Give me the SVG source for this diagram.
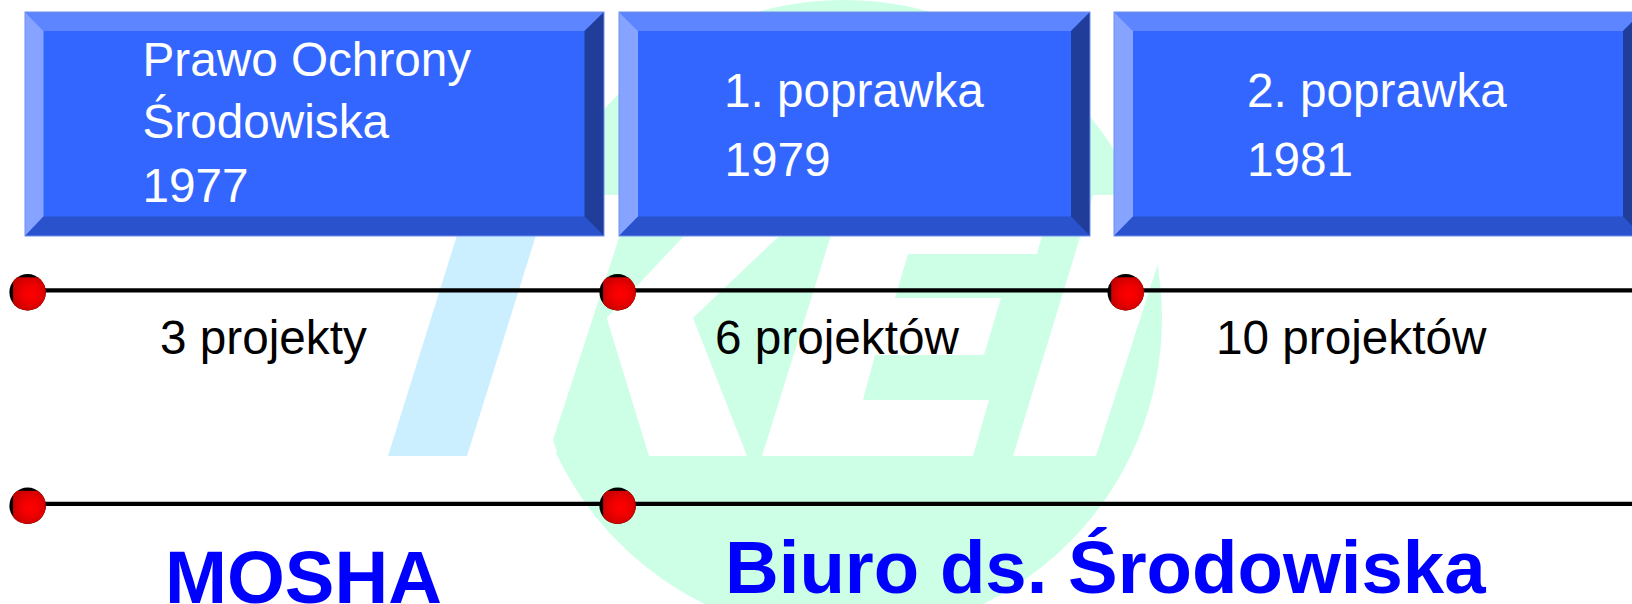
<svg xmlns="http://www.w3.org/2000/svg" width="1632" height="604" viewBox="0 0 1632 604">
<style>
text{font-family:"Liberation Sans",Arial,sans-serif}
.w{font-size:47.7px;fill:#fff}
.k{font-size:47.7px;fill:#000}
.b{font-size:74.4px;font-weight:bold;fill:#0000ff}
.t{fill:#5c85ff}.l{fill:#85a3ff}.d{fill:#2952cc}.r{fill:#1f3d99}.f{fill:#3366ff}
.e{fill:none;stroke:#6f8ff0;stroke-width:1}
.c{stroke:#000;stroke-width:4.2;fill:none}
</style>
<defs>
<radialGradient id="red" gradientUnits="userSpaceOnUse" cx="3" cy="1.5" r="19">
<stop offset="0" stop-color="#ff0000"/><stop offset="0.45" stop-color="#f00000"/><stop offset="1" stop-color="#c80000"/>
</radialGradient>
<clipPath id="dc"><ellipse cx="0" cy="0" rx="18.2" ry="18.2"/></clipPath>
<g id="dot" clip-path="url(#dc)">
<rect x="-19" y="-19" width="38" height="38" fill="#000"/>
<rect x="-14.5" y="-15" width="34" height="35" fill="url(#red)"/>
</g>
</defs>
<rect width="1632" height="604" fill="#fff"/>
<g id="logo">
<circle cx="844" cy="318" r="318" fill="#ccffe6"/>
<g fill="#fff">
<polygon points="500,195 633,195 553,440 557,452 500,452"/>
<polygon points="649,456 606.7,318 683,237 720,200 817,200 778,237 693,318 747,456"/>
<polygon points="762,456 842,200 1052,200 1037,254 908,254 895,298 1001,298 984,355 875,355 863,400 989,400 973,456"/>
<polygon points="1013,456 1093,195 1180,195 1096,456"/>
</g>
<polygon points="388,456 467,456 547,200 468,200" fill="#ccefff"/>
</g>
<g id="connectors">
<line class="c" x1="27" y1="290.3" x2="1632" y2="290.3"/>
<line class="c" x1="27" y1="503.8" x2="1632" y2="503.8"/>
</g>
<g id="box1">
<rect class="f" x="25" y="12" width="579" height="224"/>
<polygon class="t" points="25,12 604,12 584.5,31 43.5,31"/>
<polygon class="l" points="25,12 43.5,31 43.5,216.5 25,236"/>
<polygon class="d" points="25,236 43.5,216.5 584.5,216.5 604,236"/>
<polygon class="r" points="604,12 604,236 584.5,216.5 584.5,31"/>
<rect class="e" x="25" y="12" width="579" height="224"/>
<text class="w" x="142.5" y="76">Prawo Ochrony</text>
<text class="w" x="142.5" y="138">Środowiska</text>
<text class="w" x="142.5" y="201.5">1977</text>
</g>
<g id="box2">
<rect class="f" x="619" y="12" width="471" height="224"/>
<polygon class="t" points="619,12 1090,12 1071,31 638,31"/>
<polygon class="l" points="619,12 638,31 638,216.5 619,236"/>
<polygon class="d" points="619,236 638,216.5 1071,216.5 1090,236"/>
<polygon class="r" points="1090,12 1090,236 1071,216.5 1071,31"/>
<rect class="e" x="619" y="12" width="471" height="224"/>
<text class="w" x="724" y="107">1. poprawka</text>
<text class="w" x="724.5" y="176">1979</text>
</g>
<g id="box3">
<rect class="f" x="1114" y="12" width="528" height="224"/>
<polygon class="t" points="1114,12 1642,12 1623,31 1133,31"/>
<polygon class="l" points="1114,12 1133,31 1133,216.5 1114,236"/>
<polygon class="d" points="1114,236 1133,216.5 1623,216.5 1642,236"/>
<polygon class="r" points="1642,12 1642,236 1623,216.5 1623,31"/>
<rect class="e" x="1114" y="12" width="528" height="224"/>
<text class="w" x="1247" y="107">2. poprawka</text>
<text class="w" x="1247" y="176">1981</text>
</g>
<g id="dot-1-1"><use href="#dot" x="27.6" y="292.3"/></g>
<g id="dot-1-2"><use href="#dot" x="617.6" y="292.3"/></g>
<g id="dot-1-3"><use href="#dot" x="1125.7" y="292.3"/></g>
<g id="dot-2-1"><use href="#dot" x="27.6" y="505.8"/></g>
<g id="dot-2-2"><use href="#dot" x="617.6" y="505.8"/></g>
<g id="label-3"><text class="k" x="160" y="353.5">3 projekty</text></g>
<g id="label-6"><text class="k" x="715" y="353.5">6 projektów</text></g>
<g id="label-10"><text class="k" x="1216" y="353.5">10 projektów</text></g>
<g id="label-mosha"><text class="b" x="165" y="603">MOSHA</text></g>
<g id="label-biuro"><text class="b" x="725" y="593">Biuro ds. Środowiska</text></g>
</svg>
